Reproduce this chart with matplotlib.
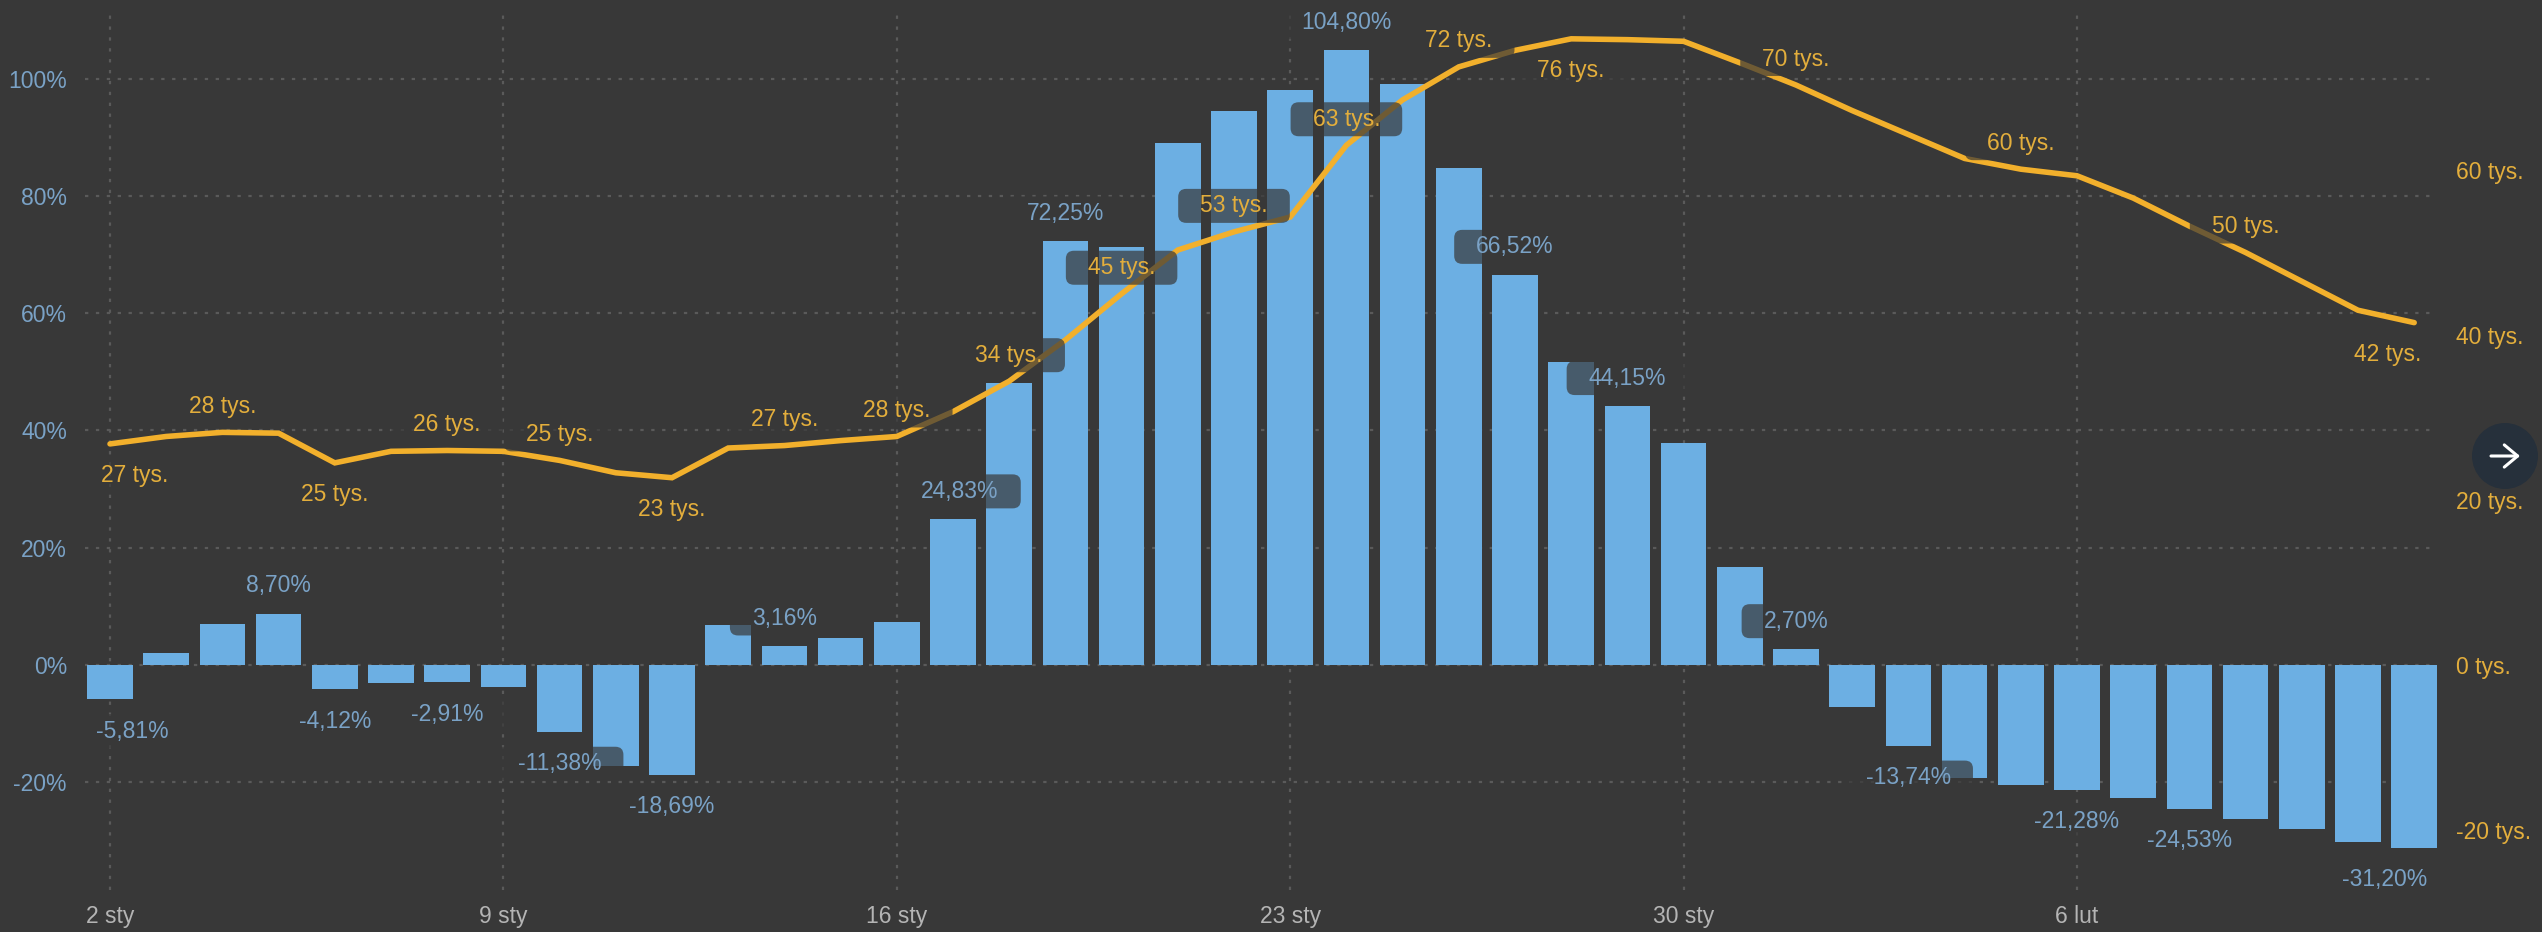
import matplotlib
matplotlib.use('Agg')
import matplotlib.pyplot as plt
from matplotlib.patches import Circle, FancyArrowPatch, FancyBboxPatch
from matplotlib.transforms import IdentityTransform

plt.rcParams['font.family'] = ['Liberation Sans', 'DejaVu Sans']

# dane
zmiana = [-5.81, 2.0, 7.0, 8.70, -4.12, -3.0, -2.91, -3.7, -11.38, -17.2, -18.69,
          6.8, 3.16, 4.6, 7.3, 24.83, 48.1, 72.25, 71.2, 89.0, 94.5, 98.0, 104.80,
          99.0, 84.8, 66.52, 51.7, 44.15, 37.8, 16.7, 2.70, -7.1, -13.74, -19.3,
          -20.5, -21.28, -22.7, -24.53, -26.2, -27.9, -30.2, -31.20]
liczba = [26.8, 27.7, 28.2, 28.1, 24.5, 25.9, 26.0, 25.9, 24.8, 23.3, 22.7, 26.3,
          26.6, 27.2, 27.7, 30.7, 34.4, 39.4, 45.0, 50.3, 52.5, 54.3, 63.0, 68.5,
          72.5, 74.5, 75.9, 75.8, 75.6, 73.0, 70.3, 67.2, 64.3, 61.4, 60.1, 59.3,
          56.6, 53.2, 50.0, 46.5, 43.0, 41.5]
dni_idx = [0, 7, 14, 21, 28, 35]
dni = ['2 sty', '9 sty', '16 sty', '23 sty', '30 sty', '6 lut']
proc_ticks = [-20, 0, 20, 40, 60, 80, 100]
tys_ticks = [-20, 0, 20, 40, 60]

etyk_proc_idx = [0, 3, 4, 6, 8, 10, 12, 15, 17, 22, 25, 27, 30, 32, 35, 37, 41]
etyk_proc = ['-5,81%', '8,70%', '-4,12%', '-2,91%', '-11,38%', '-18,69%', '3,16%',
             '24,83%', '72,25%', '104,80%', '66,52%', '44,15%', '2,70%', '-13,74%',
             '-21,28%', '-24,53%', '-31,20%']
etyk_tys_idx = [0, 2, 4, 6, 8, 10, 12, 14, 16, 18, 20, 22, 24, 26, 30, 34, 38, 41]
etyk_tys = ['27 tys.', '28 tys.', '25 tys.', '26 tys.', '25 tys.', '23 tys.', '27 tys.',
            '28 tys.', '34 tys.', '45 tys.', '53 tys.', '63 tys.', '72 tys.', '76 tys.',
            '70 tys.', '60 tys.', '50 tys.', '42 tys.']
tys_pod = [0, 4, 10, 26, 41]
przes_x = {('p', 0): 22, ('p', 15): 7, ('p', 41): -30, ('t', 0): 25, ('t', 41): -27}

TLO = '#383838'
NIEBIESKI = '#6cafe3'
TXT_NIEB = '#7aa2c6'
ZOLTY = '#f2b02c'
TXT_ZOLTY = '#e3ae3c'
SIATKA = '#5a5a5a'

W, H = 2542, 932
L, R, T, B = 85, 2430, 12, 890
Y0 = 665
PX_PROC = 5.865
PX_TYS = 8.25
X0 = 110
KROK = 56.2

fig = plt.figure(figsize=(W / 100, H / 100), dpi=100, facecolor=TLO)
ax = fig.add_axes([L / W, 1 - B / H, (R - L) / W, (B - T) / H], facecolor=TLO)
ax2 = ax.twinx()

x = list(range(len(zmiana)))
ax.set_xlim((L - X0) / KROK, (R - X0) / KROK)
ax.set_ylim((Y0 - B) / PX_PROC, (Y0 - T) / PX_PROC)
ax2.set_ylim((Y0 - B) / PX_TYS, (Y0 - T) / PX_TYS)

ax.bar(x, zmiana, width=0.81, color=NIEBIESKI, zorder=3, clip_on=False)
ax2.plot(x, liczba, color=ZOLTY, lw=4, zorder=3, solid_joinstyle='miter', solid_capstyle='round')

grid_ls = (0, (1.5, 3.4))
ax.set_xticks(dni_idx)
ax.set_xticklabels(dni)
ax.set_yticks(proc_ticks)
ax.set_yticklabels(['%d%%' % v for v in proc_ticks])
ax2.set_yticks(tys_ticks)
ax2.set_yticklabels(['%d tys.' % v for v in tys_ticks])
ax.grid(True, color=SIATKA, lw=1.6, linestyle=grid_ls, zorder=1)
ax.set_axisbelow(True)
ax.tick_params(axis='x', length=0, pad=11, labelsize=16.5, labelcolor='#b4b4b4')
ax.tick_params(axis='y', length=0, pad=13, labelsize=16.5, labelcolor=TXT_NIEB)
ax2.tick_params(axis='y', length=0, pad=19, labelsize=16.5, labelcolor=TXT_ZOLTY)
for a in (ax, ax2):
    for s in a.spines.values():
        s.set_visible(False)

rend = fig.canvas.get_renderer()


def etykieta(tekst, xy, xycoords, dx, dy, kolor):
    t = ax2.annotate(tekst, xy=xy, xycoords=xycoords, xytext=(dx, dy), textcoords='offset pixels',
                     ha='center', va='center', color=kolor, fontsize=16.5, zorder=6)
    bb = t.get_window_extent(rend)
    cy = (bb.y0 + bb.y1) / 2
    pill = FancyBboxPatch((bb.x0 - 16, cy - 11), bb.width + 32, 22,
                          boxstyle='round,pad=6,rounding_size=8', transform=IdentityTransform(),
                          facecolor=TLO, edgecolor='none', alpha=0.7, zorder=5, clip_on=False)
    ax2.add_patch(pill)


for i, s in zip(etyk_proc_idx, etyk_proc):
    dy = 28 if zmiana[i] > 0 else -32
    etykieta(s, (i, zmiana[i]), ax.transData, przes_x.get(('p', i), 0), dy, TXT_NIEB)

for i, s in zip(etyk_tys_idx, etyk_tys):
    dy = -32 if i in tys_pod else 26
    etykieta(s, (i, liczba[i]), ax2.transData, przes_x.get(('t', i), 0), dy, TXT_ZOLTY)

# przycisk ze strzalka
cx, cy = 2505, H - 456
fig.add_artist(Circle((cx, cy), 33, transform=IdentityTransform(), facecolor='#26303b', edgecolor='none'))
fig.add_artist(FancyArrowPatch((cx - 14, cy), (cx + 15, cy), transform=IdentityTransform(),
                               arrowstyle='->,head_length=6,head_width=5', mutation_scale=1.6,
                               color='white', lw=2.2, shrinkA=0, shrinkB=0))

fig.savefig('out.png', dpi=100, facecolor=TLO)
